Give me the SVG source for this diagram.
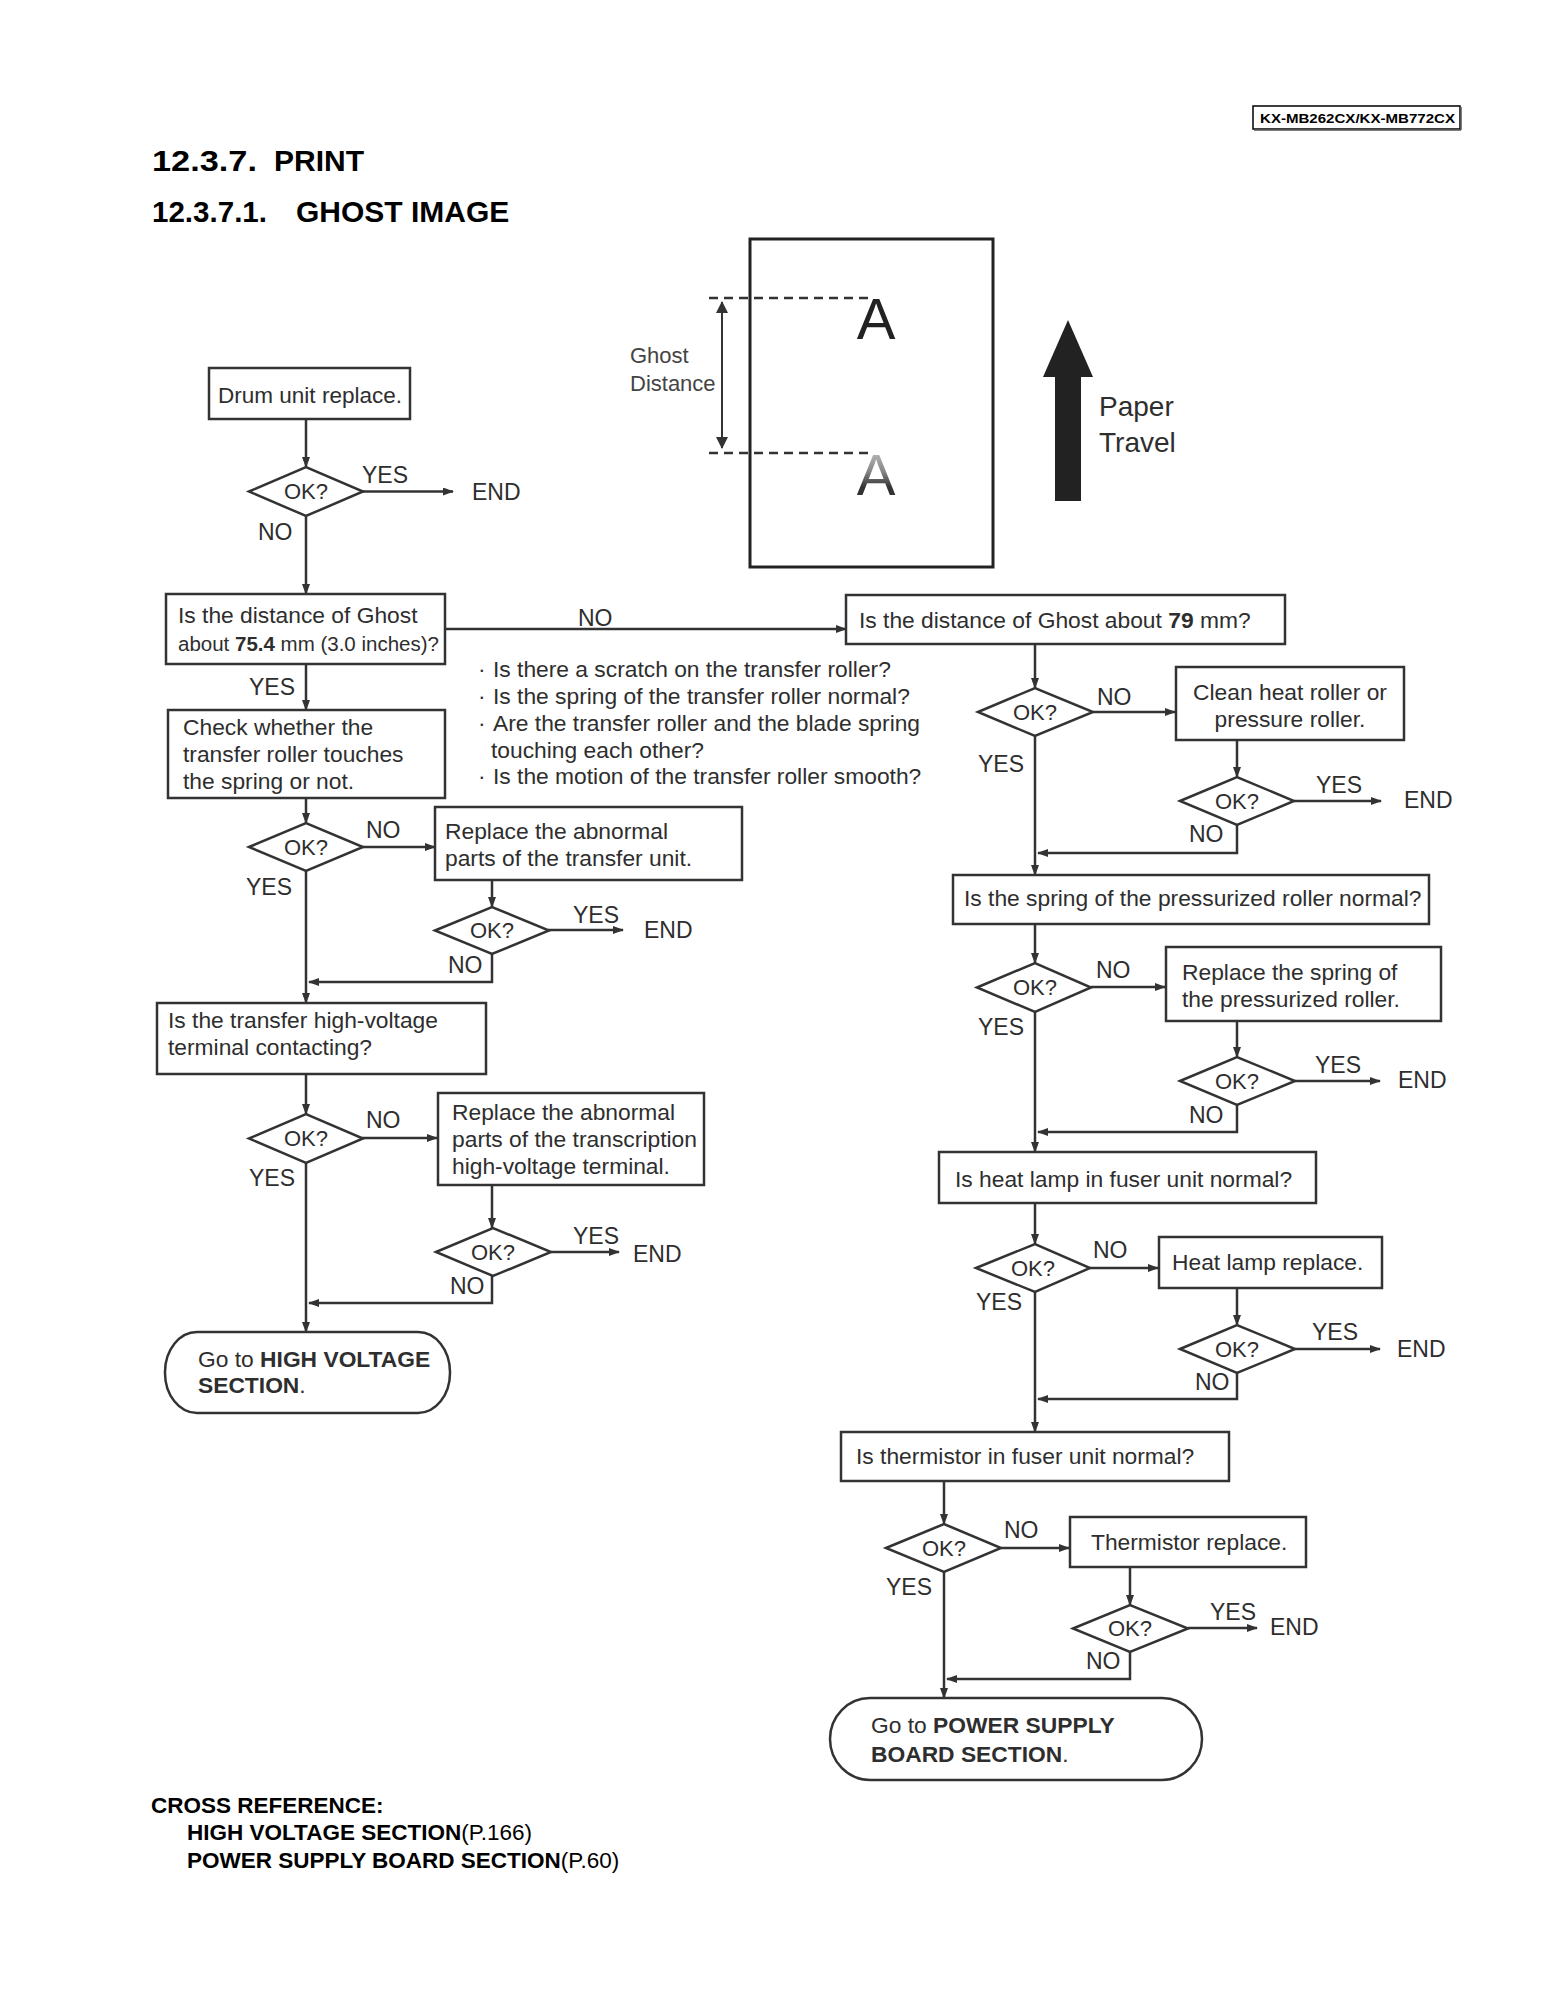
<svg xmlns="http://www.w3.org/2000/svg" width="1556" height="2014" viewBox="0 0 1556 2014">
<defs>
<marker id="ah" markerUnits="userSpaceOnUse" markerWidth="11" markerHeight="8" refX="10" refY="4" orient="auto"><path d="M0,0 L11,4 L0,8 z" fill="#333"/></marker>
<marker id="ah2" markerUnits="userSpaceOnUse" markerWidth="12" markerHeight="12" refX="11" refY="6" orient="auto-start-reverse"><path d="M0,0 L12,6 L0,12 z" fill="#333"/></marker>
<linearGradient id="ghostA" x1="0" y1="0" x2="0" y2="1"><stop offset="0" stop-color="#d0d0d0"/><stop offset="0.45" stop-color="#888"/><stop offset="0.7" stop-color="#333"/></linearGradient>
<style>
.t{font-family:"Liberation Sans",Arial,Helvetica,sans-serif;fill:#2e2e2e;font-size:22.8px}
.s{font-size:23px}
.ok{font-size:22px}
.bl{font-size:22.8px}
.sm{font-size:20.5px}
.b{font-weight:bold}
.h{font-family:"Liberation Sans",Arial,sans-serif;font-weight:bold;fill:#000}
.box{fill:#fff;stroke:#333;stroke-width:2.5}
.dia{fill:#fff;stroke:#333;stroke-width:2.5}
.ln{fill:none;stroke:#333;stroke-width:2.5}
.ar{fill:none;stroke:#333;stroke-width:2.5;marker-end:url(#ah)}
.big{font-size:28px}
.gd{fill:#444;font-size:22px}
</style>
</defs>
<rect width="1556" height="2014" fill="#fff"/>

<!-- header -->
<g id="header">
<rect x="1253" y="106" width="207" height="23" fill="#fff" stroke="#000" stroke-width="1.5"/>
<line x1="1254" y1="130" x2="1461" y2="130" stroke="#555" stroke-width="1.5"/>
<line x1="1461" y1="107" x2="1461" y2="130" stroke="#555" stroke-width="1.5"/>
<text class="h" x="1260" y="123" font-size="13" textLength="195" lengthAdjust="spacingAndGlyphs">KX-MB262CX/KX-MB772CX</text>
<text class="h" x="152" y="171" font-size="30" textLength="105" lengthAdjust="spacingAndGlyphs">12.3.7.</text>
<text class="h" x="274" y="171" font-size="30">PRINT</text>
<text class="h" x="152" y="222" font-size="30" textLength="115" lengthAdjust="spacingAndGlyphs">12.3.7.1.</text>
<text class="h" x="296" y="222" font-size="30">GHOST IMAGE</text>
</g>

<!-- ghost illustration -->
<g id="illustration">
<rect x="750" y="239" width="243" height="328" fill="#fff" stroke="#222" stroke-width="3"/>
<line x1="709" y1="298" x2="872" y2="298" stroke="#333" stroke-width="2.5" stroke-dasharray="9,6"/>
<line x1="709" y1="453" x2="872" y2="453" stroke="#333" stroke-width="2.5" stroke-dasharray="9,6"/>
<line x1="722" y1="302" x2="722" y2="448" stroke="#333" stroke-width="2" marker-start="url(#ah2)" marker-end="url(#ah2)"/>
<text class="t gd" x="630" y="363">Ghost</text>
<text class="t gd" x="630" y="391">Distance</text>
<text x="876" y="339" text-anchor="middle" font-family="Liberation Sans,Arial,sans-serif" font-size="58" fill="#222">A</text>
<text x="876" y="495" text-anchor="middle" font-family="Liberation Sans,Arial,sans-serif" font-size="58" fill="url(#ghostA)">A</text>
<polygon points="1068,320 1093,377 1081,377 1081,501 1055,501 1055,377 1043,377" fill="#222"/>
<text class="t big" x="1099" y="416">Paper</text>
<text class="t big" x="1099" y="452">Travel</text>
</g>

<!-- connectors -->
<g id="connectors">
<path class="ar" d="M306,419 V467"/>
<path class="ar" d="M363,491.5 H453"/>
<path class="ar" d="M306,516 V594"/>
<path class="ar" d="M445,629 H846"/>
<path class="ar" d="M306,664 V710"/>
<path class="ar" d="M306,798 V823"/>
<path class="ar" d="M362,847 H435"/>
<path class="ar" d="M492,880 V907"/>
<path class="ar" d="M548,930 H623"/>
<path class="ar" d="M492,954 V982 H309"/>
<path class="ar" d="M306,871 V1003"/>
<path class="ar" d="M306,1074 V1114"/>
<path class="ar" d="M362,1138 H437"/>
<path class="ar" d="M492,1185 V1228"/>
<path class="ar" d="M551,1252 H619"/>
<path class="ar" d="M492,1276 V1303 H309"/>
<path class="ar" d="M306,1163 V1332"/>

<path class="ar" d="M1035,644 V688"/>
<path class="ar" d="M1093,712 H1175"/>
<path class="ar" d="M1237,740 V777"/>
<path class="ar" d="M1294,801 H1381"/>
<path class="ar" d="M1237,825 V853 H1038"/>
<path class="ar" d="M1035,736 V875"/>
<path class="ar" d="M1035,924 V963"/>
<path class="ar" d="M1091,987 H1165"/>
<path class="ar" d="M1237,1021 V1057"/>
<path class="ar" d="M1295,1081 H1380"/>
<path class="ar" d="M1237,1105 V1132 H1038"/>
<path class="ar" d="M1035,1012 V1152"/>
<path class="ar" d="M1035,1203 V1244"/>
<path class="ar" d="M1090,1268 H1158"/>
<path class="ar" d="M1237,1288 V1325"/>
<path class="ar" d="M1295,1349 H1380"/>
<path class="ar" d="M1237,1373 V1399 H1038"/>
<path class="ar" d="M1035,1292 V1432"/>
<path class="ar" d="M944,1481 V1524"/>
<path class="ar" d="M1001,1548 H1069"/>
<path class="ar" d="M1130,1567 V1605"/>
<path class="ar" d="M1188,1628 H1257"/>
<path class="ar" d="M1130,1652 V1679 H947"/>
<path class="ar" d="M944,1572 V1698"/>
</g>

<!-- connector labels -->
<g id="labels" class="t s">
<text x="362" y="483">YES</text><text x="472" y="500">END</text><text x="258" y="540">NO</text>
<text x="578" y="626">NO</text>
<text x="249" y="695">YES</text>
<text x="366" y="838">NO</text><text x="246" y="895">YES</text>
<text x="573" y="923">YES</text><text x="644" y="938">END</text><text x="448" y="973">NO</text>
<text x="366" y="1128">NO</text><text x="249" y="1186">YES</text>
<text x="573" y="1244">YES</text><text x="633" y="1262">END</text><text x="450" y="1294">NO</text>

<text x="1097" y="705">NO</text><text x="978" y="772">YES</text>
<text x="1316" y="793">YES</text><text x="1404" y="808">END</text><text x="1189" y="842">NO</text>
<text x="1096" y="978">NO</text><text x="978" y="1035">YES</text>
<text x="1315" y="1073">YES</text><text x="1398" y="1088">END</text><text x="1189" y="1123">NO</text>
<text x="1093" y="1258">NO</text><text x="976" y="1310">YES</text>
<text x="1312" y="1340">YES</text><text x="1397" y="1357">END</text><text x="1195" y="1390">NO</text>
<text x="1004" y="1538">NO</text><text x="886" y="1595">YES</text>
<text x="1210" y="1620">YES</text><text x="1270" y="1635">END</text><text x="1086" y="1669">NO</text>
</g>

<!-- left column nodes -->
<g id="drum"><rect class="box" x="209" y="368" width="201" height="51"/><text class="t" x="218" y="403" textLength="184" lengthAdjust="spacingAndGlyphs">Drum unit replace.</text></g>
<g id="okL1"><polygon class="dia" points="249,491.5 306,467 363,491.5 306,516"/><text class="t ok" x="306" y="499" text-anchor="middle">OK?</text></g>
<g id="dist754"><rect class="box" x="166" y="594" width="279" height="70"/><text class="t" x="178" y="623">Is the distance of Ghost</text><text class="t sm" x="178" y="651">about <tspan class="b">75.4</tspan> mm (3.0 inches)?</text></g>
<g id="bullets" class="t bl">
<text x="478" y="677">·</text><text x="493" y="677">Is there a scratch on the transfer roller?</text>
<text x="478" y="704">·</text><text x="493" y="704">Is the spring of the transfer roller normal?</text>
<text x="478" y="731">·</text><text x="493" y="731">Are the transfer roller and the blade spring</text>
<text x="491" y="758">touching each other?</text>
<text x="478" y="784">·</text><text x="493" y="784">Is the motion of the transfer roller smooth?</text>
</g>
<g id="check"><rect class="box" x="168" y="710" width="277" height="88"/><text class="t" x="183" y="735">Check whether the</text><text class="t" x="183" y="762">transfer roller touches</text><text class="t" x="183" y="789">the spring or not.</text></g>
<g id="okL2"><polygon class="dia" points="249,847 306,823 363,847 306,871"/><text class="t ok" x="306" y="855" text-anchor="middle">OK?</text></g>
<g id="replTransfer"><rect class="box" x="435" y="807" width="307" height="73"/><text class="t" x="445" y="839">Replace the abnormal</text><text class="t" x="445" y="866">parts of the transfer unit.</text></g>
<g id="okL3"><polygon class="dia" points="435,930.5 492,907 549,930.5 492,954"/><text class="t ok" x="492" y="938" text-anchor="middle">OK?</text></g>
<g id="hvContact"><rect class="box" x="157" y="1003" width="329" height="71"/><text class="t" x="168" y="1028">Is the transfer high-voltage</text><text class="t" x="168" y="1055">terminal contacting?</text></g>
<g id="okL4"><polygon class="dia" points="249,1138.5 306,1114 363,1138.5 306,1163"/><text class="t ok" x="306" y="1146" text-anchor="middle">OK?</text></g>
<g id="replHV"><rect class="box" x="438" y="1093" width="266" height="92"/><text class="t" x="452" y="1120">Replace the abnormal</text><text class="t" x="452" y="1147" textLength="245" lengthAdjust="spacingAndGlyphs">parts of the transcription</text><text class="t" x="452" y="1174">high-voltage terminal.</text></g>
<g id="okL5"><polygon class="dia" points="436,1252 493,1228 551,1252 493,1276"/><text class="t ok" x="493" y="1260" text-anchor="middle">OK?</text></g>
<g id="gotoHV"><rect class="box" x="165" y="1332" width="285" height="81" rx="32" ry="40"/><text class="t" x="198" y="1367">Go to <tspan class="b">HIGH VOLTAGE</tspan></text><text class="t b" x="198" y="1393">SECTION<tspan font-weight="normal">.</tspan></text></g>

<!-- right column nodes -->
<g id="dist79"><rect class="box" x="846" y="595" width="439" height="49"/><text class="t" x="859" y="628">Is the distance of Ghost about <tspan class="b">79</tspan> mm?</text></g>
<g id="okR1"><polygon class="dia" points="978,712 1035,688 1093,712 1035,736"/><text class="t ok" x="1035" y="720" text-anchor="middle">OK?</text></g>
<g id="cleanHeat"><rect class="box" x="1176" y="667" width="228" height="73"/><text class="t" x="1290" y="700" text-anchor="middle">Clean heat roller or</text><text class="t" x="1290" y="727" text-anchor="middle">pressure roller.</text></g>
<g id="okR2"><polygon class="dia" points="1180,801 1237,777 1294,801 1237,825"/><text class="t ok" x="1237" y="809" text-anchor="middle">OK?</text></g>
<g id="springQ"><rect class="box" x="953" y="875" width="476" height="49"/><text class="t" x="964" y="906">Is the spring of the pressurized roller normal?</text></g>
<g id="okR3"><polygon class="dia" points="977,987.5 1035,963 1091,987.5 1035,1012"/><text class="t ok" x="1035" y="995" text-anchor="middle">OK?</text></g>
<g id="replSpring"><rect class="box" x="1166" y="947" width="275" height="74"/><text class="t" x="1182" y="980">Replace the spring of</text><text class="t" x="1182" y="1007">the pressurized roller.</text></g>
<g id="okR4"><polygon class="dia" points="1180,1081 1237,1057 1295,1081 1237,1105"/><text class="t ok" x="1237" y="1089" text-anchor="middle">OK?</text></g>
<g id="lampQ"><rect class="box" x="939" y="1152" width="377" height="51"/><text class="t" x="955" y="1187">Is heat lamp in fuser unit normal?</text></g>
<g id="okR5"><polygon class="dia" points="976,1268 1035,1244 1090,1268 1035,1292"/><text class="t ok" x="1033" y="1276" text-anchor="middle">OK?</text></g>
<g id="lampRepl"><rect class="box" x="1159" y="1237" width="223" height="51"/><text class="t" x="1172" y="1270">Heat lamp replace.</text></g>
<g id="okR6"><polygon class="dia" points="1180,1349 1237,1325 1295,1349 1237,1373"/><text class="t ok" x="1237" y="1357" text-anchor="middle">OK?</text></g>
<g id="thermQ"><rect class="box" x="841" y="1432" width="388" height="49"/><text class="t" x="856" y="1464">Is thermistor in fuser unit normal?</text></g>
<g id="okR7"><polygon class="dia" points="886,1548 944,1524 1001,1548 944,1572"/><text class="t ok" x="944" y="1556" text-anchor="middle">OK?</text></g>
<g id="thermRepl"><rect class="box" x="1070" y="1517" width="236" height="50"/><text class="t" x="1091" y="1550">Thermistor replace.</text></g>
<g id="okR8"><polygon class="dia" points="1073,1628.5 1130,1605 1188,1628.5 1130,1652"/><text class="t ok" x="1130" y="1636" text-anchor="middle">OK?</text></g>
<g id="gotoPS"><rect class="box" x="830" y="1698" width="372" height="82" rx="40" ry="41"/><text class="t" x="871" y="1733">Go to <tspan class="b">POWER SUPPLY</tspan></text><text class="t b" x="871" y="1762">BOARD SECTION<tspan font-weight="normal">.</tspan></text></g>

<!-- cross reference -->
<g id="crossref" font-family="Liberation Sans,Arial,sans-serif" font-size="22.5" fill="#000">
<text x="151" y="1813" font-weight="bold">CROSS REFERENCE:</text>
<text x="187" y="1840"><tspan font-weight="bold">HIGH VOLTAGE SECTION</tspan>(P.166)</text>
<text x="187" y="1868"><tspan font-weight="bold">POWER SUPPLY BOARD SECTION</tspan>(P.60)</text>
</g>
</svg>
